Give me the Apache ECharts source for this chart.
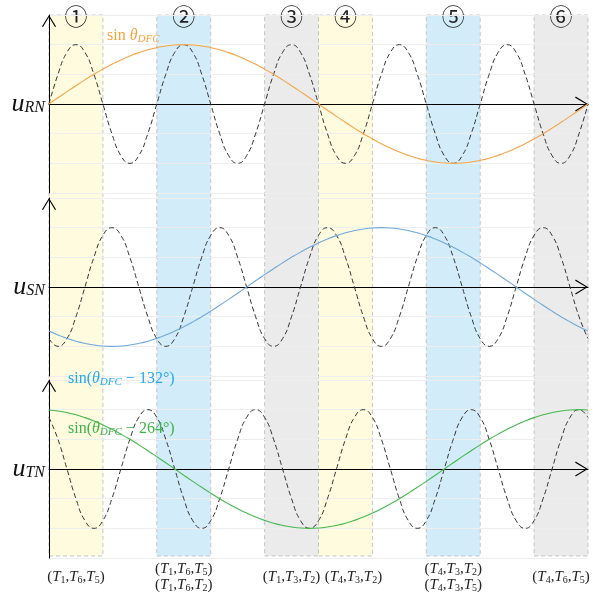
<!DOCTYPE html>
<html><head><meta charset="utf-8">
<script src="https://cdn.jsdelivr.net/npm/echarts@6/dist/echarts.min.js"></script>
<style>html,body{margin:0;padding:0;background:#fff}#c{width:593px;height:595px}</style>
</head><body><div id="c"></div>
<script>
// ---------- DATA ----------
// theta_DFC (degrees) sample positions
const thetaFine = [0,6,12,18,24,30,36,42,48,54,60,66,72,78,84,90,96,102,108,114,120,126,132,138,144,150,156,162,168,174,180,186,192,198,204,210,216,222,228,234,240,246,252,258,264,270,276,282,288,294,300,306,312,318,324,330,336,342,348,354,360];
// carrier (dashed) waves
const carrierR = [0,0.5,0.87,1,0.87,0.5,0,-0.5,-0.87,-1,-0.87,-0.5,
                  0,0.5,0.87,1,0.87,0.5,0,-0.5,-0.87,-1,-0.87,-0.5,
                  0,0.5,0.87,1,0.87,0.5,0,-0.5,-0.87,-1,-0.87,-0.5,
                  0,0.5,0.87,1,0.87,0.5,0,-0.5,-0.87,-1,-0.87,-0.5,
                  0,0.5,0.87,1,0.87,0.5,0,-0.5,-0.87,-1,-0.87,-0.5,
                  0];
const carrierS = [-0.87,-1,-0.87,-0.5,0,0.5,0.87,1,0.87,0.5,0,-0.5,
                  -0.87,-1,-0.87,-0.5,0,0.5,0.87,1,0.87,0.5,0,-0.5,
                  -0.87,-1,-0.87,-0.5,0,0.5,0.87,1,0.87,0.5,0,-0.5,
                  -0.87,-1,-0.87,-0.5,0,0.5,0.87,1,0.87,0.5,0,-0.5,
                  -0.87,-1,-0.87,-0.5,0,0.5,0.87,1,0.87,0.5,0,-0.5,
                  -0.87];
const carrierT = [0.87,0.5,0,-0.5,-0.87,-1,-0.87,-0.5,0,0.5,0.87,1,
                  0.87,0.5,0,-0.5,-0.87,-1,-0.87,-0.5,0,0.5,0.87,1,
                  0.87,0.5,0,-0.5,-0.87,-1,-0.87,-0.5,0,0.5,0.87,1,
                  0.87,0.5,0,-0.5,-0.87,-1,-0.87,-0.5,0,0.5,0.87,1,
                  0.87,0.5,0,-0.5,-0.87,-1,-0.87,-0.5,0,0.5,0.87,1,
                  0.87];
// slow reference waves (same theta samples)
const sinR = [0,0.105,0.208,0.309,0.407,0.5,0.588,0.669,0.743,0.809,0.866,0.914,0.951,0.978,0.995,1,
              0.995,0.978,0.951,0.914,0.866,0.809,0.743,0.669,0.588,0.5,0.407,0.309,0.208,0.105,0,
              -0.105,-0.208,-0.309,-0.407,-0.5,-0.588,-0.669,-0.743,-0.809,-0.866,-0.914,-0.951,-0.978,-0.995,-1,
              -0.995,-0.978,-0.951,-0.914,-0.866,-0.809,-0.743,-0.669,-0.588,-0.5,-0.407,-0.309,-0.208,-0.105,0];
const sinS = [-0.743,-0.809,-0.866,-0.914,-0.951,-0.978,-0.995,-1,-0.995,-0.978,-0.951,-0.914,-0.866,-0.809,-0.743,-0.669,-0.588,-0.5,-0.407,-0.309,-0.208,-0.105,0,
              0.105,0.208,0.309,0.407,0.5,0.588,0.669,0.743,0.809,0.866,0.914,0.951,0.978,0.995,1,0.995,0.978,0.951,0.914,0.866,0.809,0.743,0.669,0.588,0.5,0.407,0.309,0.208,0.105,0,
              -0.105,-0.208,-0.309,-0.407,-0.5,-0.588,-0.669,-0.743];
const sinT = [0.995,0.978,0.951,0.914,0.866,0.809,0.743,0.669,0.588,0.5,0.407,0.309,0.208,0.105,0,
              -0.105,-0.208,-0.309,-0.407,-0.5,-0.588,-0.669,-0.743,-0.809,-0.866,-0.914,-0.951,-0.978,-0.995,-1,
              -0.995,-0.978,-0.951,-0.914,-0.866,-0.809,-0.743,-0.669,-0.588,-0.5,-0.407,-0.309,-0.208,-0.105,0,
              0.105,0.208,0.309,0.407,0.5,0.588,0.669,0.743,0.809,0.866,0.914,0.951,0.978,0.995,1,0.995];
// sectors
const bandStart = [0,72,144,180,252,324];
const bandEnd   = [36,108,180,216,288,360];
const bandKind  = [0,1,2,0,1,2];
const bandMarks = ['①','②','③','④','⑤','⑥'];
const bandLabels = ['(T_1,T_6,T_5)','(T_1,T_6,T_5)\n(T_1,T_6,T_2)','(T_1,T_3,T_2)','(T_4,T_3,T_2)','(T_4,T_3,T_2)\n(T_4,T_3,T_5)','(T_4,T_6,T_5)'];
const panelNames = ['RN','SN','TN'];

// ---------- STYLE ----------
const serif = "'Liberation Serif','DejaVu Serif',serif";
const bandFill = ['#FFFBDF','#D3ECF9','#EBEBEB'];
const labelShift = [0,0,0,16,0,0];
const gridTops = [15,198,380];
const panelH = 178;
const chevron = 'path://M0,13 L8,0 L16,13 L14.8,13.6 L8,2.2 L1.2,13.6 Z';
const carriers = [carrierR, carrierS, carrierT];
const slow = [sinR, sinS, sinT];
const slowColors = ['#F5A547','#6FA8DC','#45B84F'];
const centers = bandStart.map((s,i)=>(s+bandEnd[i])/2);

const subRich = {
  t: {fontFamily: serif, fontStyle:'italic', fontSize:15, lineHeight:16, color:'#222'},
  s: {fontFamily: serif, fontSize:10, lineHeight:8, verticalAlign:'bottom', color:'#222'},
  g: {width:16}
};
function toRich(str){ return str.replace(/T_(\d)/g,'{t|T}{s|$1}'); }

const chart = echarts.init(document.getElementById('c'), null, {renderer:'canvas'});
const grids = [{left:49,right:5,top:15,height:541}].concat(gridTops.map(t=>({left:49,right:5,top:t,height:panelH})));

const xAxes = [
  {gridIndex:0,type:'value',min:0,max:360,interval:18,position:'bottom',
   axisLine:{show:false},axisTick:{show:false},splitLine:{show:false},
   axisLabel:{margin:21,verticalAlign:'middle',fontFamily:serif,fontSize:15,lineHeight:16,color:'#222',
     showMinLabel:true,showMaxLabel:true,rich:subRich,
     formatter:v=>{const i=centers.indexOf(v); if(i<0) return ''; return (labelShift[i]?'{g|}':'')+toRich(bandLabels[i]);}}},
  {gridIndex:0,type:'value',min:0,max:360,interval:18,position:'top',
   axisLine:{show:false},axisTick:{show:false},splitLine:{show:false},
   axisLabel:{margin:-1,verticalAlign:'middle',fontFamily:"'Noto Sans CJK SC','DejaVu Sans',sans-serif",fontSize:23,color:'#222',
     showMinLabel:true,showMaxLabel:true,
     formatter:v=>{const i=centers.indexOf(v); return i<0?'':bandMarks[i];}}}
].concat(gridTops.map((t,i)=>({
  gridIndex:i+1,type:'value',min:0,max:360,z:1,
  axisLine:{show:true,onZero:true,symbol:['none',chevron],symbolSize:[15,13],symbolOffset:[0,-6.5],lineStyle:{color:'#000',width:1}},
  axisTick:{show:false},axisLabel:{show:false},splitLine:{show:false}
})));

const yAxes = [{gridIndex:0,type:'value',min:0,max:1,show:false}].concat(gridTops.map((t,i)=>({
  gridIndex:i+1,type:'value',min:-1.5,max:1.5,interval:0.5,z:1,
  name:'{u|u}{s|'+panelNames[i]+'}',nameLocation:'middle',nameRotate:0,nameGap:4,
  nameTextStyle:{rich:{
    u:{fontFamily:serif,fontStyle:'italic',fontSize:26,lineHeight:24,color:'#111'},
    s:{fontFamily:serif,fontStyle:'italic',fontSize:16,lineHeight:12,verticalAlign:'bottom',color:'#111'}
  }},
  axisLine:{show:true,onZero:false,symbol:['none',chevron],symbolSize:[15,12],symbolOffset:[0,-6],lineStyle:{color:'#000',width:1}},
  axisTick:{show:false},axisLabel:{show:false},
  splitLine:{show:true,lineStyle:{color:'#EEEEEE',width:1}}
})));

const series = [{
  type:'line',xAxisIndex:0,yAxisIndex:0,data:[[0,0]],symbol:'none',silent:true,z:0,
  lineStyle:{opacity:0},
  markArea:{silent:true,z:0,label:{show:false},
    data:bandStart.map((s,i)=>[{xAxis:s,itemStyle:{color:bandFill[bandKind[i]],borderColor:'#C4C4C4',borderWidth:1,borderType:[4,3]}},{xAxis:bandEnd[i]}])}
}];
gridTops.forEach((t,i)=>{
  series.push({type:'line',xAxisIndex:i+2,yAxisIndex:i+1,smooth:true,symbol:'none',silent:true,z:3,
    data:thetaFine.map((th,k)=>[th,carriers[i][k]]),
    lineStyle:{color:'#333',width:1,type:[5,3]}});
  series.push({type:'line',xAxisIndex:i+2,yAxisIndex:i+1,smooth:true,symbol:'none',silent:true,z:4,
    data:thetaFine.map((th,k)=>[th,slow[i][k]]),
    lineStyle:{color:slowColors[i],width:1.1}});
});

function labelRich(color){
  return {
    n:{fill:color,fontFamily:serif,fontSize:16,lineHeight:18},
    i:{fill:color,fontFamily:serif,fontStyle:'italic',fontSize:16,lineHeight:18},
    s:{fill:color,fontFamily:serif,fontStyle:'italic',fontSize:11,lineHeight:8,verticalAlign:'bottom'}
  };
}
const graphic = [
  {type:'text',x:107,y:36,z:10,style:{text:'{n|sin }{i|θ}{s|DFC}',rich:labelRich('#F4A23E'),align:'left',verticalAlign:'middle'}},
  {type:'text',x:68,y:379,z:10,style:{text:'{n|sin(}{i|θ}{s|DFC}{n| − 132°)}',rich:labelRich('#22AAEE'),align:'left',verticalAlign:'middle'}},
  {type:'text',x:68,y:429,z:10,style:{text:'{n|sin(}{i|θ}{s|DFC}{n| − 264°)}',rich:labelRich('#3DB54A'),align:'left',verticalAlign:'middle'}}
];

chart.setOption({
  animation:false,
  backgroundColor:'#fff',
  grid:grids,
  xAxis:xAxes,
  yAxis:yAxes,
  series:series,
  graphic:graphic
});
</script></body></html>
